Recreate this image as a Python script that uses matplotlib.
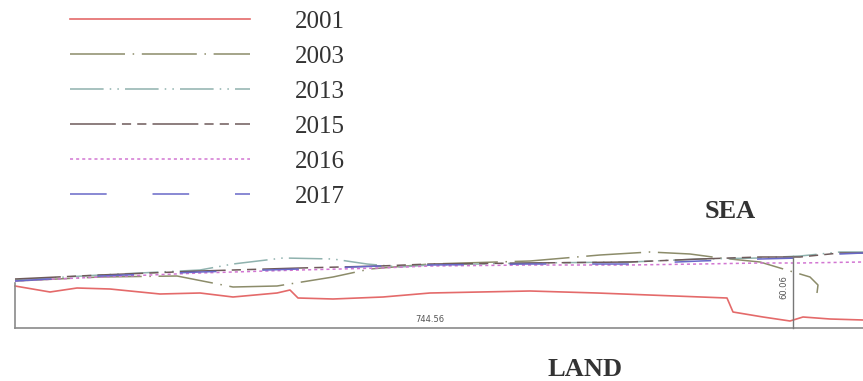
import matplotlib
matplotlib.use('Agg')
import matplotlib.pyplot as plt

# shoreline positions (x along the coast, y offset in px)
years = ['2001', '2003', '2013', '2015', '2016', '2017']

x_2001 = [15, 50, 77, 110, 160, 200, 233, 277, 290, 298, 333, 383, 430, 530, 597, 727, 733, 763, 790, 803, 830, 863]
y_2001 = [286, 292, 288, 289, 294, 293, 297, 293, 290, 298, 299, 297, 293, 291, 293, 298, 312, 317, 321, 317, 319, 320]

x_2003 = [15, 100, 177, 233, 277, 333, 370, 430, 530, 600, 650, 690, 720, 760, 790, 810, 818, 817]
y_2003 = [281, 277, 276, 287, 286, 277, 269, 264, 261, 255, 252, 254, 258, 262, 271, 277, 285, 293]

x_2013 = [15, 100, 200, 233, 283, 333, 367, 400, 430, 530, 630, 700, 760, 800, 840, 863]
y_2013 = [280, 275, 270, 264, 258, 259, 264, 267, 265, 263, 262, 259, 258, 256, 252, 252]

x_2015 = [15, 100, 200, 300, 380, 430, 530, 630, 700, 760, 800, 840, 863]
y_2015 = [279, 275, 271, 268, 266, 264, 263, 262, 259, 257, 257, 253, 253]

x_2016 = [15, 100, 200, 300, 380, 430, 530, 630, 700, 760, 800, 863]
y_2016 = [281, 277, 273, 270, 268, 266, 265, 265, 264, 263, 263, 262]

x_2017 = [15, 100, 200, 300, 380, 430, 530, 630, 700, 760, 800, 840, 863]
y_2017 = [281, 276, 272, 269, 266, 265, 264, 264, 261, 259, 258, 254, 253]

baseline_len = '744.56'
offset_len = '60.06'

series = [(x_2001, y_2001), (x_2003, y_2003), (x_2013, y_2013),
          (x_2015, y_2015), (x_2016, y_2016), (x_2017, y_2017)]
colors = ['#e46a6a', '#8c8c6a', '#8fb2ae', '#6e5a5a', '#d276d2', '#6868c8']
dashes = [None, (36, 5, 1, 5), (22, 4, 1, 4, 1, 4), (30, 4, 6, 4, 6, 4), (2, 2), (24, 30)]

fig = plt.figure(figsize=(8.63, 3.81), dpi=100)
ax = fig.add_axes([0, 0, 1, 1])
ax.set_xlim(0, 863)
ax.set_ylim(381, 0)
ax.axis('off')

for (xs, ys), yr, c, d in zip(series, years, colors, dashes):
    if d is None:
        ax.plot(xs, ys, color=c, lw=1.2, label=yr)
    else:
        ax.plot(xs, ys, color=c, lw=1.1, dashes=d, label=yr)

# frame of the measured section
ax.plot([15, 863], [328, 328], color='#8a8a8a', lw=1.2)
ax.plot([15, 15], [283, 328], color='#8a8a8a', lw=1.2)
ax.plot([793, 793], [256, 328], color='#777777', lw=1.0)
ax.text(430, 324, baseline_len, fontsize=6, color='#555555', ha='center', va='bottom',
        family='DejaVu Sans')
ax.text(788, 287, offset_len, fontsize=6, color='#555555', ha='right', va='center',
        rotation=90, family='DejaVu Sans')

ax.text(730, 212, 'SEA', fontsize=19, fontweight='bold', family='Liberation Serif',
        color='#333333', ha='center', va='center')
ax.text(585, 369, 'LAND', fontsize=19, fontweight='bold', family='Liberation Serif',
        color='#333333', ha='center', va='center')

leg = ax.legend(loc='upper left', bbox_to_anchor=(0.081, 0.973), frameon=False,
                prop={'family': 'Liberation Serif', 'size': 18},
                handlelength=7.2, handletextpad=1.8, labelspacing=0.5,
                borderpad=0, borderaxespad=0)
for t in leg.get_texts():
    t.set_color('#333333')

fig.savefig('out.png', dpi=100)
